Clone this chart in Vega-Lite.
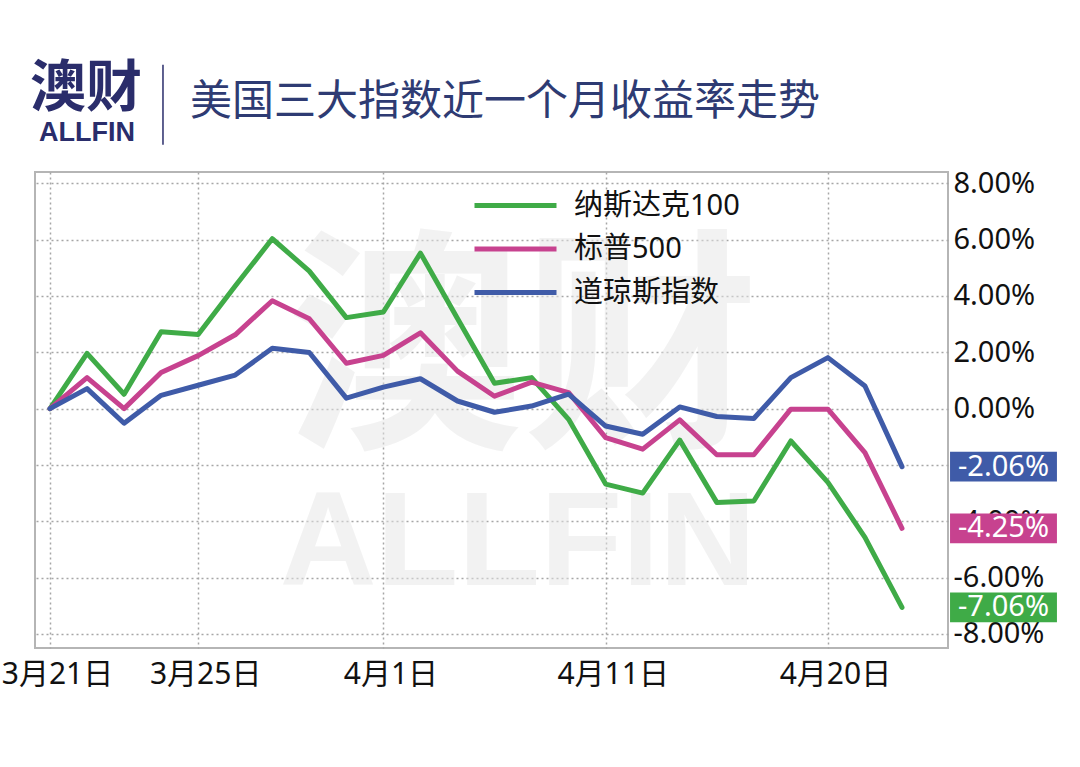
{
  "$schema": "https://vega.github.io/schema/vega-lite/v6.json",
  "width": 913,
  "height": 476,
  "autosize": {"type": "none"},
  "padding": {"left": 35, "top": 172, "right": 132, "bottom": 119},
  "background": "white",
  "config": {
    "view": {"stroke": "#b5b5b5", "strokeWidth": 2},
    "axis": {
      "ticks": false,
      "domain": false,
      "labelColor": "#111111",
      "labelFont": "'Noto Sans', 'Noto Sans CJK SC'"
    }
  },
  "resolve": {"axis": {"x": "independent", "y": "independent"}},
  "datasets": {
    "returns": [
      {"i": 0, "date": "3月21日", "series": "纳斯达克100", "v": 0},
      {"i": 1, "date": "3月22日", "series": "纳斯达克100", "v": 1.96},
      {"i": 2, "date": "3月23日", "series": "纳斯达克100", "v": 0.51},
      {"i": 3, "date": "3月24日", "series": "纳斯达克100", "v": 2.73},
      {"i": 4, "date": "3月25日", "series": "纳斯达克100", "v": 2.63},
      {"i": 5, "date": "3月28日", "series": "纳斯达克100", "v": 4.35},
      {"i": 6, "date": "3月29日", "series": "纳斯达克100", "v": 6.03},
      {"i": 7, "date": "3月30日", "series": "纳斯达克100", "v": 4.88},
      {"i": 8, "date": "3月31日", "series": "纳斯达克100", "v": 3.23},
      {"i": 9, "date": "4月1日", "series": "纳斯达克100", "v": 3.43},
      {"i": 10, "date": "4月4日", "series": "纳斯达克100", "v": 5.52},
      {"i": 11, "date": "4月5日", "series": "纳斯达克100", "v": 3.2},
      {"i": 12, "date": "4月6日", "series": "纳斯达克100", "v": 0.9},
      {"i": 13, "date": "4月7日", "series": "纳斯达克100", "v": 1.1},
      {"i": 14, "date": "4月8日", "series": "纳斯达克100", "v": -0.38},
      {"i": 15, "date": "4月11日", "series": "纳斯达克100", "v": -2.68},
      {"i": 16, "date": "4月12日", "series": "纳斯达克100", "v": -3.0},
      {"i": 17, "date": "4月13日", "series": "纳斯达克100", "v": -1.12},
      {"i": 18, "date": "4月14日", "series": "纳斯达克100", "v": -3.33},
      {"i": 19, "date": "4月18日", "series": "纳斯达克100", "v": -3.28},
      {"i": 20, "date": "4月19日", "series": "纳斯达克100", "v": -1.15},
      {"i": 21, "date": "4月20日", "series": "纳斯达克100", "v": -2.62},
      {"i": 22, "date": "4月21日", "series": "纳斯达克100", "v": -4.57},
      {"i": 23, "date": "4月22日", "series": "纳斯达克100", "v": -7.06},
      {"i": 0, "date": "3月21日", "series": "标普500", "v": 0},
      {"i": 1, "date": "3月22日", "series": "标普500", "v": 1.1},
      {"i": 2, "date": "3月23日", "series": "标普500", "v": 0.0},
      {"i": 3, "date": "3月24日", "series": "标普500", "v": 1.28},
      {"i": 4, "date": "3月25日", "series": "标普500", "v": 1.88},
      {"i": 5, "date": "3月28日", "series": "标普500", "v": 2.62},
      {"i": 6, "date": "3月29日", "series": "标普500", "v": 3.83},
      {"i": 7, "date": "3月30日", "series": "标普500", "v": 3.19},
      {"i": 8, "date": "3月31日", "series": "标普500", "v": 1.61},
      {"i": 9, "date": "4月1日", "series": "标普500", "v": 1.89},
      {"i": 10, "date": "4月4日", "series": "标普500", "v": 2.69},
      {"i": 11, "date": "4月5日", "series": "标普500", "v": 1.33},
      {"i": 12, "date": "4月6日", "series": "标普500", "v": 0.44},
      {"i": 13, "date": "4月7日", "series": "标普500", "v": 0.94},
      {"i": 14, "date": "4月8日", "series": "标普500", "v": 0.57},
      {"i": 15, "date": "4月11日", "series": "标普500", "v": -1.03},
      {"i": 16, "date": "4月12日", "series": "标普500", "v": -1.44},
      {"i": 17, "date": "4月13日", "series": "标普500", "v": -0.4},
      {"i": 18, "date": "4月14日", "series": "标普500", "v": -1.64},
      {"i": 19, "date": "4月18日", "series": "标普500", "v": -1.64},
      {"i": 20, "date": "4月19日", "series": "标普500", "v": -0.02},
      {"i": 21, "date": "4月20日", "series": "标普500", "v": -0.02},
      {"i": 22, "date": "4月21日", "series": "标普500", "v": -1.56},
      {"i": 23, "date": "4月22日", "series": "标普500", "v": -4.25},
      {"i": 0, "date": "3月21日", "series": "道琼斯指数", "v": 0},
      {"i": 1, "date": "3月22日", "series": "道琼斯指数", "v": 0.71},
      {"i": 2, "date": "3月23日", "series": "道琼斯指数", "v": -0.52},
      {"i": 3, "date": "3月24日", "series": "道琼斯指数", "v": 0.47},
      {"i": 4, "date": "3月25日", "series": "道琼斯指数", "v": 0.83},
      {"i": 5, "date": "3月28日", "series": "道琼斯指数", "v": 1.19},
      {"i": 6, "date": "3月29日", "series": "道琼斯指数", "v": 2.14},
      {"i": 7, "date": "3月30日", "series": "道琼斯指数", "v": 1.99},
      {"i": 8, "date": "3月31日", "series": "道琼斯指数", "v": 0.37},
      {"i": 9, "date": "4月1日", "series": "道琼斯指数", "v": 0.76},
      {"i": 10, "date": "4月4日", "series": "道琼斯指数", "v": 1.06},
      {"i": 11, "date": "4月5日", "series": "道琼斯指数", "v": 0.27},
      {"i": 12, "date": "4月6日", "series": "道琼斯指数", "v": -0.13},
      {"i": 13, "date": "4月7日", "series": "道琼斯指数", "v": 0.09},
      {"i": 14, "date": "4月8日", "series": "道琼斯指数", "v": 0.51},
      {"i": 15, "date": "4月11日", "series": "道琼斯指数", "v": -0.62},
      {"i": 16, "date": "4月12日", "series": "道琼斯指数", "v": -0.91},
      {"i": 17, "date": "4月13日", "series": "道琼斯指数", "v": 0.06},
      {"i": 18, "date": "4月14日", "series": "道琼斯指数", "v": -0.28},
      {"i": 19, "date": "4月18日", "series": "道琼斯指数", "v": -0.35},
      {"i": 20, "date": "4月19日", "series": "道琼斯指数", "v": 1.1},
      {"i": 21, "date": "4月20日", "series": "道琼斯指数", "v": 1.81},
      {"i": 22, "date": "4月21日", "series": "道琼斯指数", "v": 0.8},
      {"i": 23, "date": "4月22日", "series": "道琼斯指数", "v": -2.06}
    ]
  },
  "layer": [
    {
      "data": {"values": [{"t": "澳财"}]},
      "mark": {"type": "text", "font": "'Noto Sans CJK SC'", "fontWeight": "bold", "fontSize": 236, "color": "#e6e6e6", "opacity": 0.5, "align": "center", "baseline": "middle"},
      "encoding": {
        "x": {"datum": 12.77, "type": "quantitative", "axis": null},
        "y": {"datum": 1.75, "type": "quantitative", "axis": null},
        "text": {"field": "t"}
      }
    },
    {
      "data": {"values": [{"t": "ALLFIN"}]},
      "mark": {"type": "text", "font": "'Liberation Sans'", "fontWeight": "bold", "fontSize": 134, "color": "#e6e6e6", "opacity": 0.5, "align": "center", "baseline": "middle"},
      "encoding": {
        "x": {"datum": 12.63, "type": "quantitative", "axis": null},
        "y": {"datum": -4.86, "type": "quantitative", "axis": null},
        "text": {"field": "t"}
      }
    },
    {
      "data": {"name": "returns"},
      "mark": {"type": "line", "strokeWidth": 5, "strokeJoin": "round", "strokeCap": "round"},
      "encoding": {
        "x": {
          "field": "i",
          "type": "quantitative",
          "scale": {"domain": [-0.405, 24.242], "nice": false, "zero": false},
          "axis": {
            "grid": true,
            "gridColor": "#a6a6a6",
            "gridDash": [2, 3],
            "gridWidth": 1.5,
            "gridOpacity": 1,
            "values": [0, 4, 9, 15, 21],
            "labelExpr": "datum.value == 0 ? '3月21日' : datum.value == 4 ? '3月25日' : datum.value == 9 ? '4月1日' : datum.value == 15 ? '4月11日' : '4月20日'",
            "labelFontSize": 30,
            "labelPadding": 11,
            "labelOffset": 7,
            "labelFlush": false,
            "labelOverlap": false,
            "title": null
          }
        },
        "y": {
          "field": "v",
          "type": "quantitative",
          "scale": {"domain": [-8.5, 8.4], "nice": false, "zero": false},
          "axis": {
            "orient": "right",
            "grid": true,
            "gridColor": "#a6a6a6",
            "gridDash": [2, 3],
            "gridWidth": 1.5,
            "gridOpacity": 1,
            "values": [-8, -6, -4, -2, 0, 2, 4, 6, 8],
            "labelExpr": "(datum.value < 0 ? '-' : '') + format(abs(datum.value), '.2f') + '%'",
            "labelFontSize": 29,
            "labelPadding": 5,
            "title": null
          }
        },
        "color": {
          "field": "series",
          "type": "nominal",
          "scale": {"domain": ["纳斯达克100", "标普500", "道琼斯指数"], "range": ["#3fab47", "#c7428f", "#3f5ba8"]},
          "legend": {
            "orient": "none",
            "legendX": 464,
            "legendY": 17,
            "title": null,
            "symbolType": "M-3,0H3",
            "symbolSize": 747,
            "symbolStrokeWidth": 5,
            "labelFontSize": 29,
            "labelFont": "'Noto Sans', 'Noto Sans CJK SC'",
            "labelColor": "#111111",
            "labelOffset": 42,
            "labelLimit": 400,
            "rowPadding": 11.5,
            "padding": 0
          }
        }
      }
    },
    {
      "data": {"name": "returns"},
      "transform": [{"filter": "datum.i == 23"}],
      "mark": {"type": "point", "shape": "M-1.8,-0.5H1.8V0.5H-1.8Z", "filled": true, "size": 3528, "opacity": 1, "strokeWidth": 0},
      "encoding": {
        "x": {"datum": 25.74, "type": "quantitative", "axis": null},
        "y": {"field": "v", "type": "quantitative", "axis": null},
        "color": {"field": "series", "type": "nominal", "legend": null}
      }
    },
    {
      "data": {"name": "returns"},
      "transform": [
        {"filter": "datum.i == 23"},
        {"calculate": "(datum.v < 0 ? '-' : '') + format(abs(datum.v), '.2f') + '%'", "as": "label"}
      ],
      "mark": {"type": "text", "font": "'Noto Sans'", "fontSize": 29, "color": "white", "align": "center", "baseline": "middle"},
      "encoding": {
        "x": {"datum": 25.74, "type": "quantitative", "axis": null},
        "y": {"field": "v", "type": "quantitative", "axis": null},
        "text": {"field": "label"}
      }
    },
    {
      "data": {"values": [{"t": "澳财"}]},
      "mark": {"type": "text", "font": "'Noto Sans CJK SC'", "fontWeight": "bold", "fontSize": 56, "color": "#2a2d6b", "align": "center", "baseline": "middle"},
      "encoding": {
        "x": {"datum": 0.97, "type": "quantitative", "axis": null},
        "y": {"datum": 11.33, "type": "quantitative", "axis": null},
        "text": {"field": "t"}
      }
    },
    {
      "data": {"values": [{"t": "ALLFIN"}]},
      "mark": {"type": "text", "font": "'Liberation Sans'", "fontWeight": "bold", "fontSize": 27, "color": "#2a2d6b", "align": "center", "baseline": "middle"},
      "encoding": {
        "x": {"datum": 1.0, "type": "quantitative", "axis": null},
        "y": {"datum": 9.77, "type": "quantitative", "axis": null},
        "text": {"field": "t"}
      }
    },
    {
      "data": {"values": [{"t": "sep"}]},
      "mark": {"type": "rule", "color": "#2a2d6b", "strokeWidth": 1.5},
      "encoding": {
        "x": {"datum": 3.05, "type": "quantitative", "axis": null},
        "y": {"datum": 12.21, "type": "quantitative", "axis": null},
        "y2": {"datum": 9.37}
      }
    },
    {
      "data": {"values": [{"t": "美国三大指数近一个月收益率走势"}]},
      "mark": {"type": "text", "font": "'Noto Sans CJK SC'", "fontSize": 42, "color": "#2e3b73", "align": "left", "baseline": "middle"},
      "encoding": {
        "x": {"datum": 3.78, "type": "quantitative", "axis": null},
        "y": {"datum": 10.87, "type": "quantitative", "axis": null},
        "text": {"field": "t"}
      }
    }
  ]
}
